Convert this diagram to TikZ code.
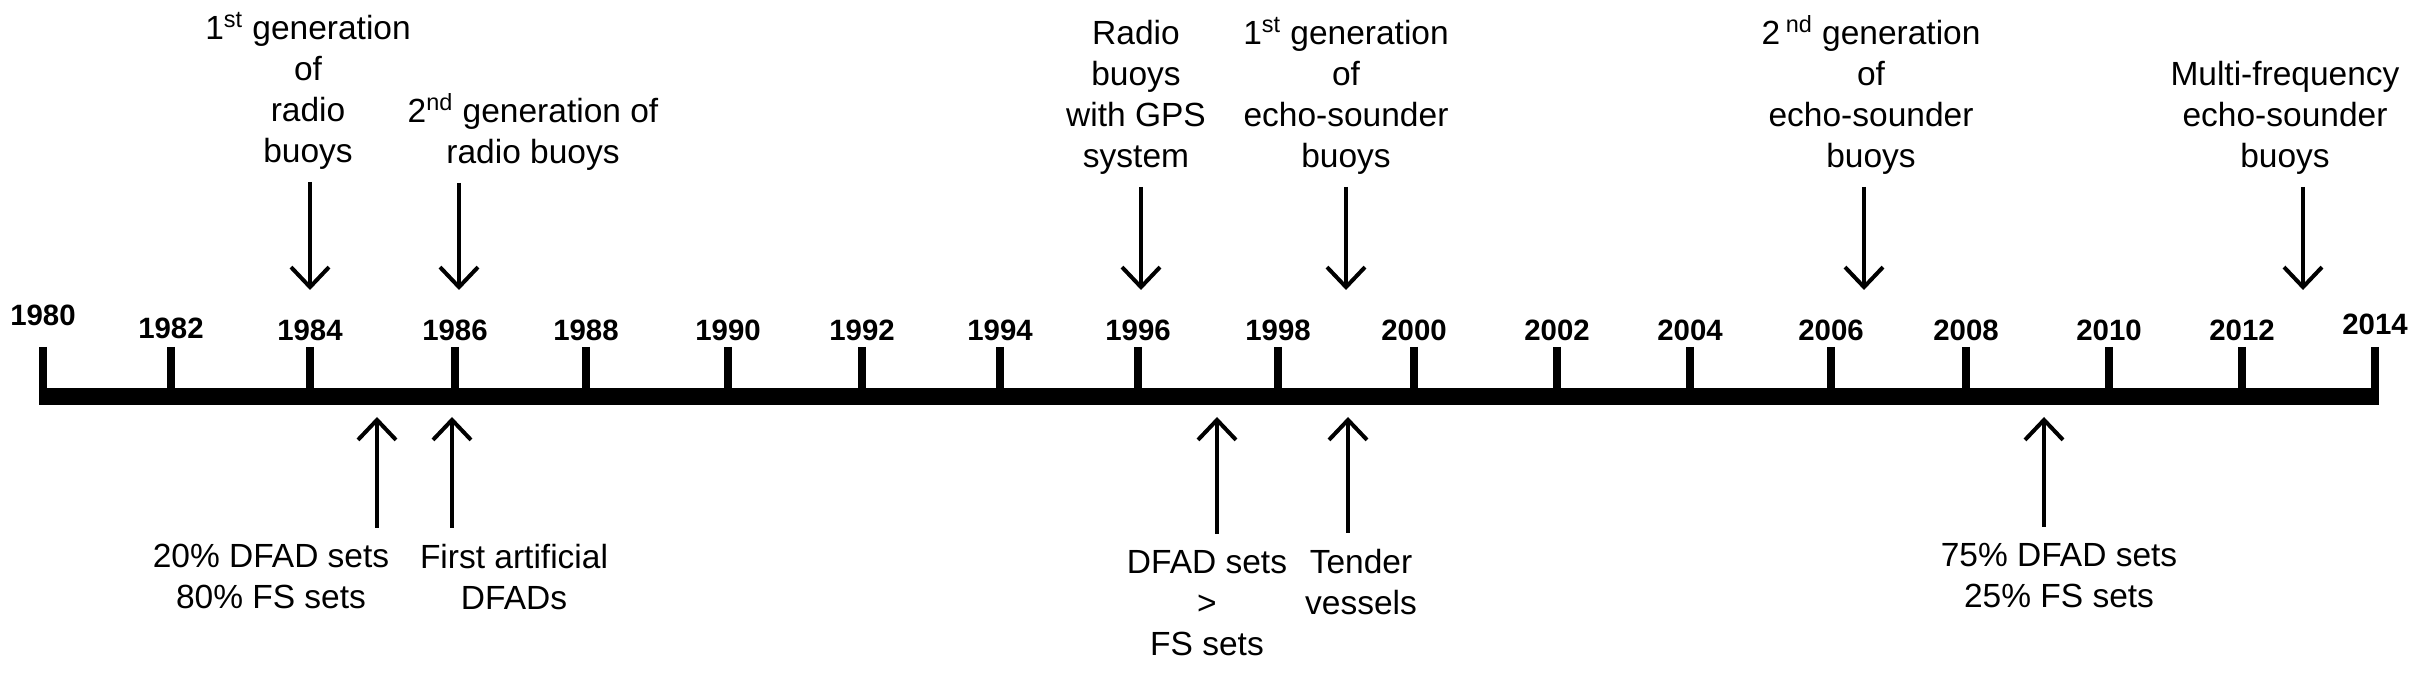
\documentclass[tikz,border=0pt]{standalone}
\usepackage{fontspec}
\setmainfont{Liberation Sans}
\usetikzlibrary{arrows.meta}

\begin{document}
\begin{tikzpicture}
    [x=0.5pt,y=-0.5pt,
    year/.style={font=\fontsize{14.7}{17}\selectfont\bfseries,
      inner sep=0pt,anchor=base},
    news/.style={font=\fontsize{16.75}{20.5}\selectfont,align=center,
      inner sep=0pt,anchor=base},
    upper/.style={news,outer ysep=6pt},
    lower/.style={news,outer ysep=8pt},
    pointer/.style={line width=2pt,-{Straight Barb[length=10pt,width=19pt]}}]

  \useasboundingbox (0,0) rectangle (2414,678);

  % time axis
  \draw[line width=8.5pt] (39,396.5) -- (2379,396.5);
  \foreach \yr/\x/\b in {1980/43/326,1982/171/339,1984/310/341,1986/455/341,
      1988/586/341,1990/728/341,1992/862/341,1994/1000/341,1996/1138/341,
      1998/1278/341,2000/1414/341,2002/1557/341,2004/1690/341,2006/1831/341,
      2008/1966/341,2010/2109/341,2012/2242/341,2014/2375/335}
  {
    \draw[line width=4pt] (\x,347) -- (\x,390);
    \node[year] (y\yr) at (\x,\b) {\yr};
  }

  % events above the axis (placed at the baseline of their last line)
  \node[upper] (gen1radio) at (308,163)  {1\textsuperscript{st} generation\\of\\radio\\buoys};
  \node[upper] (gen2radio) at (533,164)  {2\textsuperscript{nd} generation of\\radio buoys};
  \node[upper] (gps)       at (1136,168) {Radio\\buoys\\with GPS\\system};
  \node[upper] (gen1echo)  at (1346,168) {1\textsuperscript{st} generation\\of\\echo-sounder\\buoys};
  \node[upper] (gen2echo)  at (1871,168) {2\,\textsuperscript{nd} generation\\of\\echo-sounder\\buoys};
  \node[upper] (multi)     at (2285,168) {Multi-frequency\\echo-sounder\\buoys};

  \foreach \ev/\x in {gen1radio/310,gen2radio/459,gps/1141,gen1echo/1346,
      gen2echo/1864,multi/2303}
  {
    \coordinate (\ev-tip) at (\x,290);
    \draw[pointer] (\ev.south -| \ev-tip) -- (\ev-tip);
  }

  % events below the axis
  \node[lower] (share20)    at (271,608)  {20\% DFAD sets\\80\% FS sets};
  \node[lower] (artificial) at (514,609)  {First artificial\\DFADs};
  \node[lower] (majority)   at (1207,655) {DFAD sets\\>\\FS sets};
  \node[lower] (tender)     at (1361,614) {Tender\\vessels};
  \node[lower] (share75)    at (2059,607) {75\% DFAD sets\\25\% FS sets};

  \foreach \ev/\x in {share20/377,artificial/452,majority/1217,tender/1348,
      share75/2044}
  {
    \coordinate (\ev-tip) at (\x,417);
    \draw[pointer] (\ev.north -| \ev-tip) -- (\ev-tip);
  }
\end{tikzpicture}
\end{document}
